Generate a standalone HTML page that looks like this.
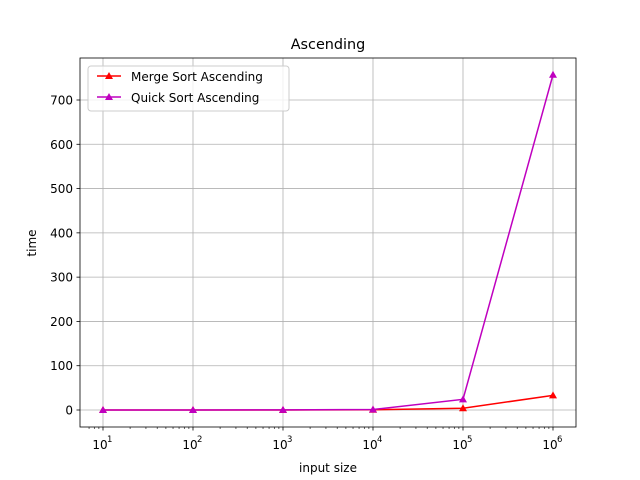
<!DOCTYPE html>
<html><head><meta charset="utf-8"><style>body{margin:0;background:#fff}svg{display:block}text{font-family:"DejaVu Sans","Liberation Sans",sans-serif}</style></head>
<body>
<svg id="chart" width="640" height="480">
<rect x="0" y="0" width="640" height="480" fill="#fff"/>
<g id="grid"></g>
<g id="ticks"></g>
<g id="series"></g>
<rect x="80" y="58" width="496" height="369" fill="none" stroke="#000" stroke-width="0.8"/>
<text x="328" y="49" font-size="14.4" text-anchor="middle">Ascending</text>
<text x="328" y="472" font-size="12" text-anchor="middle">input size</text>
<text x="36" y="243" font-size="12" text-anchor="middle" transform="rotate(-90 36 243)">time</text>
<g>
<rect x="88" y="66" width="201" height="45" rx="3" fill="#fff" fill-opacity="0.8" stroke="#ccc"/>
<g>
<line x1="97" y1="76" x2="121" y2="76" stroke="#ff0000" stroke-width="1.5"/>
<path d="M109,72 L113,79 L105,79 Z" fill="#ff0000"/>
<text x="131" y="81" font-size="12">Merge Sort Ascending</text></g>
<g>
<line x1="97" y1="97" x2="121" y2="97" stroke="#bf00bf" stroke-width="1.5"/>
<path d="M109,93 L113,100 L105,100 Z" fill="#bf00bf"/>
<text x="131" y="102" font-size="12">Quick Sort Ascending</text></g>
</g>
</svg>
<script>
const exponents=[1,2,3,4,5,6];
const mergeTimes=[0.001,0.01,0.1,0.6,4,33];
const quickTimes=[0.001,0.02,0.2,1,24,757];
const yTicks=[0,100,200,300,400,500,600,700];
const NS="http://www.w3.org/2000/svg";
function xs(e){return 103+(e-1)*90;}
function ys(v){return 410-v*310/700;}
function mk(tag,attrs,parent){const el=document.createElementNS(NS,tag);for(const k in attrs)el.setAttribute(k,attrs[k]);parent.appendChild(el);return el;}
const grid=document.getElementById('grid'),ticks=document.getElementById('ticks'),series=document.getElementById('series');
exponents.forEach(e=>{const x=xs(e);
const g=mk('line',{x1:x,y1:58,x2:x,y2:427,stroke:'#b0b0b0','stroke-width':0.8},grid);


mk('line',{x1:x,y1:427,x2:x,y2:430.5,stroke:'#000','stroke-width':0.8},ticks);
const t=mk('text',{x:x-3,y:449,'font-size':12,'text-anchor':'middle'},ticks);t.textContent='10';


const s=mk('text',{x:x+4,y:442,'font-size':8.5},ticks);s.textContent=String(e);
for(let k=2;k<10;k++){const xm=x+90*Math.log10(k);if(xm<576)mk('line',{x1:xm,y1:427,x2:xm,y2:429,stroke:'#000','stroke-width':0.6},ticks);}
});
for(let k=7;k<10;k++){const xm=xs(0)+90*Math.log10(k);if(xm>80)mk('line',{x1:xm,y1:427,x2:xm,y2:429,stroke:'#000','stroke-width':0.6},ticks);}
yTicks.forEach(v=>{const y=ys(v);
const g=mk('line',{x1:80,y1:y,x2:576,y2:y,stroke:'#b0b0b0','stroke-width':0.8},grid);


mk('line',{x1:76.5,y1:y,x2:80,y2:y,stroke:'#000','stroke-width':0.8},ticks);
const t=mk('text',{x:73,y:y+4.5,'font-size':12,'text-anchor':'end'},ticks);t.textContent=String(v);


});
function draw(vals,color,name){
const pts=vals.map((v,i)=>[xs(exponents[i]),ys(v)]);
const pl=mk('polyline',{points:pts.map(p=>p.join(',')).join(' '),fill:'none',stroke:color,'stroke-width':1.5},series);


pts.forEach(p=>{const m=mk('path',{d:`M${p[0]},${p[1]-4} L${p[0]+4},${p[1]+3} L${p[0]-4},${p[1]+3} Z`,fill:color},series);

});
}
draw(mergeTimes,'#ff0000','merge-sort');
draw(quickTimes,'#bf00bf','quick-sort');
</script>
</body></html>
